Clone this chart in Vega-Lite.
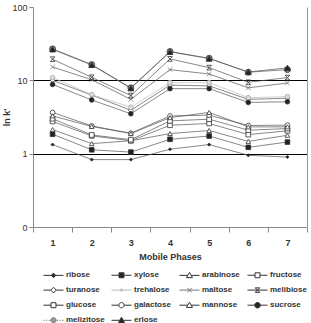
{
  "$schema": "https://vega.github.io/schema/vega-lite/v6.json",
  "autosize": {"type": "none"},
  "width": 274,
  "height": 220,
  "padding": {"left": 33, "top": 7, "right": 4, "bottom": 96},
  "background": "white",
  "config": {
    "view": {"stroke": null},
    "font": "Liberation Sans",
    "axis": {"labelFont": "Liberation Sans", "titleFont": "Liberation Sans", "labelColor": "#333", "titleColor": "#333", "domainColor": "#888", "tickColor": "#888"},
    "legend": {
      "orient": "none", "legendX": 10, "legendY": 260, "columns": 4, "direction": "horizontal",
      "symbolSize": 225, "symbolStrokeWidth": 1, "symbolOpacity": 1, "labelFont": "Liberation Sans", "labelFontSize": 8,
      "labelFontWeight": "bold", "labelColor": "#333", "labelOffset": 7, "columnPadding": 4, "rowPadding": 2.1,
      "gridAlign": "all", "padding": 0
    }
  },
  "data": {"values": [
    {"phase": 1, "sugar": "ribose", "k": 1.33}, {"phase": 2, "sugar": "ribose", "k": 0.83}, {"phase": 3, "sugar": "ribose", "k": 0.83}, {"phase": 4, "sugar": "ribose", "k": 1.15}, {"phase": 5, "sugar": "ribose", "k": 1.33}, {"phase": 6, "sugar": "ribose", "k": 0.95}, {"phase": 7, "sugar": "ribose", "k": 0.9},
    {"phase": 1, "sugar": "xylose", "k": 1.84}, {"phase": 2, "sugar": "xylose", "k": 1.13}, {"phase": 3, "sugar": "xylose", "k": 1.05}, {"phase": 4, "sugar": "xylose", "k": 1.57}, {"phase": 5, "sugar": "xylose", "k": 1.74}, {"phase": 6, "sugar": "xylose", "k": 1.22}, {"phase": 7, "sugar": "xylose", "k": 1.44},
    {"phase": 1, "sugar": "arabinose", "k": 2.13}, {"phase": 2, "sugar": "arabinose", "k": 1.37}, {"phase": 3, "sugar": "arabinose", "k": 1.5}, {"phase": 4, "sugar": "arabinose", "k": 1.88}, {"phase": 5, "sugar": "arabinose", "k": 2.07}, {"phase": 6, "sugar": "arabinose", "k": 1.47}, {"phase": 7, "sugar": "arabinose", "k": 1.78},
    {"phase": 1, "sugar": "fructose", "k": 2.75}, {"phase": 2, "sugar": "fructose", "k": 1.75}, {"phase": 3, "sugar": "fructose", "k": 1.5}, {"phase": 4, "sugar": "fructose", "k": 2.44}, {"phase": 5, "sugar": "fructose", "k": 2.58}, {"phase": 6, "sugar": "fructose", "k": 1.82}, {"phase": 7, "sugar": "fructose", "k": 2.05},
    {"phase": 1, "sugar": "turanose", "k": 10.0}, {"phase": 2, "sugar": "turanose", "k": 6.3}, {"phase": 3, "sugar": "turanose", "k": 3.9}, {"phase": 4, "sugar": "turanose", "k": 8.6}, {"phase": 5, "sugar": "turanose", "k": 8.4}, {"phase": 6, "sugar": "turanose", "k": 5.5}, {"phase": 7, "sugar": "turanose", "k": 5.7},
    {"phase": 1, "sugar": "trehalose", "k": 10.9}, {"phase": 2, "sugar": "trehalose", "k": 6.4}, {"phase": 3, "sugar": "trehalose", "k": 4.3}, {"phase": 4, "sugar": "trehalose", "k": 9.3}, {"phase": 5, "sugar": "trehalose", "k": 9.3}, {"phase": 6, "sugar": "trehalose", "k": 5.8}, {"phase": 7, "sugar": "trehalose", "k": 6.0},
    {"phase": 1, "sugar": "maltose", "k": 15.2}, {"phase": 2, "sugar": "maltose", "k": 10.2}, {"phase": 3, "sugar": "maltose", "k": 5.5}, {"phase": 4, "sugar": "maltose", "k": 14.0}, {"phase": 5, "sugar": "maltose", "k": 12.2}, {"phase": 6, "sugar": "maltose", "k": 7.9}, {"phase": 7, "sugar": "maltose", "k": 9.2},
    {"phase": 1, "sugar": "melibiose", "k": 19.4}, {"phase": 2, "sugar": "melibiose", "k": 11.0}, {"phase": 3, "sugar": "melibiose", "k": 6.2}, {"phase": 4, "sugar": "melibiose", "k": 19.6}, {"phase": 5, "sugar": "melibiose", "k": 14.9}, {"phase": 6, "sugar": "melibiose", "k": 9.4}, {"phase": 7, "sugar": "melibiose", "k": 10.9},
    {"phase": 1, "sugar": "glucose", "k": 3.0}, {"phase": 2, "sugar": "glucose", "k": 1.8}, {"phase": 3, "sugar": "glucose", "k": 1.55}, {"phase": 4, "sugar": "glucose", "k": 2.8}, {"phase": 5, "sugar": "glucose", "k": 2.95}, {"phase": 6, "sugar": "glucose", "k": 2.09}, {"phase": 7, "sugar": "glucose", "k": 2.2},
    {"phase": 1, "sugar": "galactose", "k": 3.65}, {"phase": 2, "sugar": "galactose", "k": 2.39}, {"phase": 3, "sugar": "galactose", "k": 1.9}, {"phase": 4, "sugar": "galactose", "k": 3.27}, {"phase": 5, "sugar": "galactose", "k": 3.35}, {"phase": 6, "sugar": "galactose", "k": 2.42}, {"phase": 7, "sugar": "galactose", "k": 2.45},
    {"phase": 1, "sugar": "mannose", "k": 3.27}, {"phase": 2, "sugar": "mannose", "k": 2.35}, {"phase": 3, "sugar": "mannose", "k": 1.88}, {"phase": 4, "sugar": "mannose", "k": 3.1}, {"phase": 5, "sugar": "mannose", "k": 3.65}, {"phase": 6, "sugar": "mannose", "k": 2.32}, {"phase": 7, "sugar": "mannose", "k": 2.32},
    {"phase": 1, "sugar": "sucrose", "k": 8.8}, {"phase": 2, "sugar": "sucrose", "k": 5.4}, {"phase": 3, "sugar": "sucrose", "k": 3.5}, {"phase": 4, "sugar": "sucrose", "k": 7.7}, {"phase": 5, "sugar": "sucrose", "k": 7.7}, {"phase": 6, "sugar": "sucrose", "k": 5.0}, {"phase": 7, "sugar": "sucrose", "k": 5.1},
    {"phase": 1, "sugar": "melizitose", "k": 26.8}, {"phase": 2, "sugar": "melizitose", "k": 16.4}, {"phase": 3, "sugar": "melizitose", "k": 7.9}, {"phase": 4, "sugar": "melizitose", "k": 24.7}, {"phase": 5, "sugar": "melizitose", "k": 20.0}, {"phase": 6, "sugar": "melizitose", "k": 12.9}, {"phase": 7, "sugar": "melizitose", "k": 14.0},
    {"phase": 1, "sugar": "erlose", "k": 26.5}, {"phase": 2, "sugar": "erlose", "k": 16.2}, {"phase": 3, "sugar": "erlose", "k": 7.8}, {"phase": 4, "sugar": "erlose", "k": 24.5}, {"phase": 5, "sugar": "erlose", "k": 19.8}, {"phase": 6, "sugar": "erlose", "k": 13.0}, {"phase": 7, "sugar": "erlose", "k": 14.8}
  ]},
  "resolve": {"axis": {"y": "independent"}},
  "layer": [
    {
      "mark": {"type": "line", "strokeWidth": 0.7},
      "encoding": {
        "x": {"field": "phase", "type": "ordinal", "scale": {"paddingInner": 0, "paddingOuter": 0},
          "axis": {"labelAngle": 0, "tickBand": "extent", "tickSize": 5, "labelFontSize": 9, "labelFontWeight": "bold", "labelPadding": 6, "title": "Mobile Phases", "titleFontSize": 9, "titleFontWeight": "bold", "titlePadding": 5, "grid": false}},
        "y": {"field": "k", "type": "quantitative", "scale": {"type": "log", "domain": [0.1, 100], "nice": false},
          "axis": {"orient": "right", "labels": false, "ticks": false, "grid": false, "title": null, "domainColor": "#999"}},
        "detail": {"field": "sugar"},
        "color": {"condition": {"test": "datum.sugar === 'trehalose'", "value": "#bbb"}, "value": "#555"}
      }
    },
    {
      "mark": {"type": "point", "filled": false, "strokeWidth": 0.8, "opacity": 1},
      "encoding": {
        "x": {"field": "phase", "type": "ordinal"},
        "y": {"field": "k", "type": "quantitative",
          "axis": {"values": [0.1, 1, 10, 100], "labelExpr": "datum.value < 0.5 ? '0' : format(datum.value, 'd')", "tickSize": 4, "labelFontSize": 9, "labelPadding": 2,
            "grid": true, "gridColor": "#000", "gridWidth": 1, "gridOpacity": {"condition": {"test": "datum.value > 50 || datum.value < 0.5", "value": 0}, "value": 1},
            "title": "ln k'", "titleFontSize": 9, "titleFontWeight": "bold", "titlePadding": 0}},
        "shape": {"condition": [
          {"test": "indexof(['sucrose','melizitose','galactose','trehalose'], datum.sugar) >= 0", "value": "circle"},
          {"test": "indexof(['xylose','fructose','glucose'], datum.sugar) >= 0", "value": "square"},
          {"test": "indexof(['arabinose','mannose','erlose'], datum.sugar) >= 0", "value": "triangle-up"},
          {"test": "datum.sugar === 'maltose'", "value": "M-1,-1L1,1M1,-1L-1,1"},
          {"test": "datum.sugar === 'melibiose'", "value": "M-1,-1H1M-1,1H1M-1,-1L1,1M1,-1L-1,1"}
        ], "value": "diamond"},
        "fill": {"condition": [
          {"test": "indexof(['ribose','xylose','sucrose','erlose'], datum.sugar) >= 0", "value": "#222"},
          {"test": "datum.sugar === 'melizitose'", "value": "#888"},
          {"test": "datum.sugar === 'trehalose'", "value": "#ddd"}
        ], "value": "#fff"},
        "stroke": {"condition": [
          {"test": "datum.sugar === 'trehalose'", "value": "#aaa"},
          {"test": "datum.sugar === 'maltose'", "value": "#777"}
        ], "value": "#333"},
        "size": {"condition": [
          {"test": "datum.sugar === 'ribose'", "value": 10},
          {"test": "indexof(['melizitose','erlose'], datum.sugar) >= 0", "value": 36}
        ], "value": 22}
      }
    },
    {
      "mark": {"type": "point", "filled": true, "opacity": 0},
      "encoding": {
        "x": {"field": "phase", "type": "ordinal"},
        "y": {"field": "k", "type": "quantitative", "axis": null},
        "shape": {"field": "sugar", "type": "nominal", "legend": {"title": null},
          "scale": {"domain": ["ribose","xylose","arabinose","fructose","turanose","trehalose","maltose","melibiose","glucose","galactose","mannose","sucrose","melizitose","erlose"],
            "range": [
              "M-1,0H1.667M0.333,-0.3L0.633,0L0.333,0.3L0.033,0Z",
              "M-1,0H1.667M0.003,-0.33H0.663V0.33H0.003Z",
              "M-1,0H0.104M0.562,0H1.667M0.333,-0.4L0.733,0.3H-0.067Z",
              "M-1,0H0.003M0.663,0H1.667M0.003,-0.33H0.663V0.33H0.003Z",
              "M-1,0H-0.037M0.703,0H1.667M0.333,-0.37L0.703,0L0.333,0.37L-0.037,0Z",
              "M-1,0H1.667M0.183,0A0.15,0.15,0,1,1,0.483,0A0.15,0.15,0,1,1,0.183,0Z",
              "M-1,0H1.667M0.033,-0.3L0.633,0.3M0.633,-0.3L0.033,0.3",
              "M-1,0H1.667M0.033,-0.3H0.633M0.033,0.3H0.633M0.033,-0.3L0.633,0.3M0.633,-0.3L0.033,0.3",
              "M-1,0H0.003M0.663,0H1.667M0.003,-0.33H0.663V0.33H0.003Z",
              "M-1,0H-0.017M0.683,0H1.667M-0.017,0A0.35,0.35,0,1,1,0.683,0A0.35,0.35,0,1,1,-0.017,0Z",
              "M-1,0H0.104M0.562,0H1.667M0.333,-0.4L0.733,0.3H-0.067Z",
              "M-1,0H1.667M-0.037,0A0.37,0.37,0,1,1,0.703,0A0.37,0.37,0,1,1,-0.037,0Z",
              "M-1,0H-0.85M-0.65,0H-0.5M-0.3,0H-0.15M0.8,0H0.95M1.15,0H1.3M1.5,0H1.667M-0.017,0A0.35,0.35,0,1,1,0.683,0A0.35,0.35,0,1,1,-0.017,0Z",
              "M-1,0H1.667M0.333,-0.4L0.733,0.3H-0.067Z"
            ]}},
        "fill": {"field": "sugar", "type": "nominal", "legend": {"title": null},
          "scale": {"domain": ["ribose","xylose","arabinose","fructose","turanose","trehalose","maltose","melibiose","glucose","galactose","mannose","sucrose","melizitose","erlose"],
            "range": ["#222","#222","#fff","#fff","#fff","#ddd","#fff","#fff","#fff","#fff","#fff","#222","#999","#222"]}},
        "stroke": {"field": "sugar", "type": "nominal", "legend": {"title": null},
          "scale": {"domain": ["ribose","xylose","arabinose","fructose","turanose","trehalose","maltose","melibiose","glucose","galactose","mannose","sucrose","melizitose","erlose"],
            "range": ["#333","#333","#333","#333","#333","#bbb","#777","#333","#333","#333","#333","#333","#777","#333"]}}
      }
    }
  ]
}
